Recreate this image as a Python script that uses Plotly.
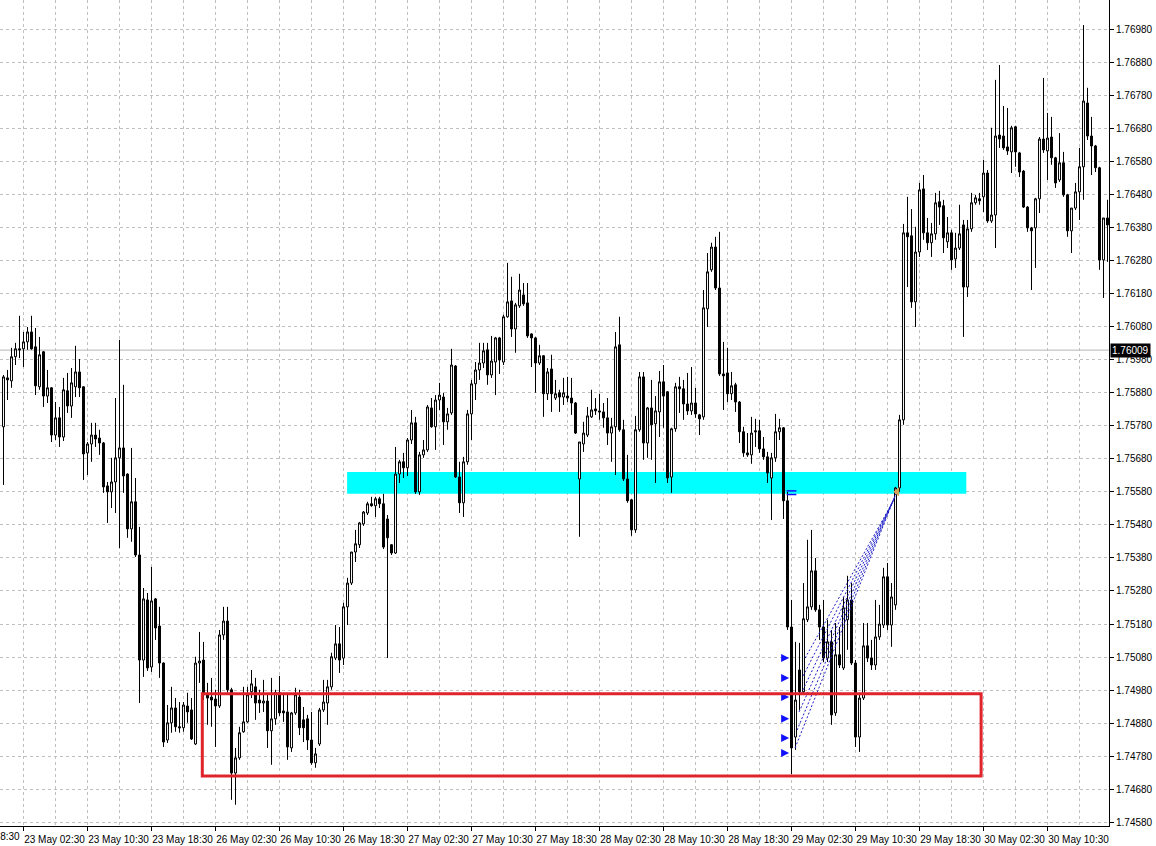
import plotly.graph_objects as go

# ---------------- data ----------------
# M30 bars, numbered from 0 = "23 May 02:30" (weekend gap removed, MT4 style)
first_bar = -5
# prices in points (1 point = 0.00001)
open_pts = [
    175777, 175925, 175916, 175989, 176013, 176013, 176034, 176064, 176019, 175898,
    176004, 175870, 175895, 175752, 175804, 175746, 175886, 175840, 175898, 175943,
    175898, 175698, 175725, 175752, 175743, 175728, 175598, 175580, 175610, 175683,
    175713, 175634, 175468, 175550, 175389, 175071, 175253, 175050, 175256, 175174,
    175062, 174829, 174881, 174926, 174869, 174866, 174932, 174920, 174817, 175062,
    175071, 174966, 174959, 174953, 174932, 175147, 175189, 174981, 174729, 174775,
    174854, 174884, 174975, 174990, 174950, 174941, 174947, 174857, 174893, 174972,
    174917, 174914, 174805, 174911, 174959, 174890, 174893, 174829, 174760, 174817,
    174920, 174941, 174990, 175077, 175120, 175077, 175232, 175304, 175398, 175420,
    175483, 175516, 175544, 175538, 175559, 175544, 175498, 175420, 175395, 175634,
    175671, 175653, 175737, 175789, 175580, 175692, 175707, 175834, 175777, 175858,
    175867, 175792, 175819, 175961, 175625, 175547, 175671, 175816, 175907, 175949,
    175970, 176010, 175934, 175973, 176046, 175973, 176110, 176158, 176073, 176143,
    176176, 176152, 176058, 176046, 175970, 175992, 175877, 175952, 175864, 175880,
    175867, 175870, 175864, 175849, 175619, 175725, 175752, 175807, 175831, 175825,
    175822, 175804, 175758, 175777, 176025, 175768, 175619, 175556, 175465, 175768,
    175928, 175728, 175834, 175786, 175822, 175913, 175883, 175625, 175771, 175898,
    175892, 175846, 175825, 175849, 175813, 175807, 176134, 176252, 176321, 176197,
    175937, 175940, 175877, 175904, 175852, 175762, 175698, 175692, 175765, 175765,
    175710, 175686, 175622, 175683, 175762, 175774, 175553, 175171, 174838, 175041,
    174975, 175193, 175232, 175341, 175223, 175171, 175077, 175126, 174911, 175087,
    175047, 175193, 175253, 175062, 174838, 174956, 175114, 175077, 175056, 175141,
    175177, 175323, 175177, 175238, 175592, 175798, 176364, 176355, 176155, 176306,
    176497, 176364, 176334, 176361, 176458, 176446, 176337, 176364, 176285, 176318,
    176388, 176200, 176376, 176455, 176467, 176473, 176545, 176400, 176418, 176660,
    176657, 176624, 176609, 176685, 176606, 176551, 176442, 176379, 176379, 176467,
    176648, 176612, 176654, 176591, 176524, 176576, 176479, 176370, 176439, 176488,
    176564, 176757, 176657, 176627, 176561, 176282, 176409,
]
high_pts = [
    175934, 175949, 176016, 176031, 176113, 176064, 176079, 176113, 176076, 176049,
    176006, 175949, 175897, 175852, 175837, 175925, 175940, 175955, 176022, 175982,
    175900, 175731, 175789, 175789, 175768, 175731, 175610, 175683, 175864, 176040,
    175904, 175636, 175713, 175622, 175474, 175289, 175274, 175353, 175259, 175232,
    175064, 174935, 174990, 174956, 174944, 174944, 174972, 174956, 175081, 175156,
    175126, 175002, 175017, 174981, 175162, 175232, 175232, 174987, 174805, 174869,
    174990, 174990, 175041, 175017, 174981, 175011, 174966, 175017, 174981, 175023,
    174972, 174972, 174914, 174987, 174981, 174929, 174905, 174914, 174805, 174926,
    175011, 175011, 175093, 175177, 175171, 175244, 175320, 175398, 175465, 175489,
    175522, 175550, 175565, 175565, 175565, 175574, 175510, 175422, 175716, 175677,
    175698, 175743, 175828, 175807, 175701, 175737, 175843, 175864, 175873, 175910,
    175880, 175834, 176013, 175964, 175671, 175686, 175828, 175919, 175973, 176031,
    176031, 176031, 176052, 176049, 176049, 176116, 176273, 176231, 176152, 176240,
    176212, 176212, 176060, 176049, 176025, 175994, 175955, 175995, 175919, 175889,
    175925, 175928, 175925, 175852, 175731, 175792, 175837, 175889, 175864, 175877,
    175849, 175864, 175804, 176064, 176110, 175798, 175692, 175558, 175810, 175943,
    175943, 175837, 175919, 175870, 175946, 175964, 175885, 175774, 175910, 175928,
    175919, 175940, 175958, 175895, 175816, 176191, 176303, 176334, 176352, 176367,
    176034, 176016, 175943, 175910, 175855, 175777, 175758, 175807, 175801, 175798,
    175746, 175701, 175698, 175816, 175801, 175776, 175580, 175253, 175126, 175123,
    175304, 175435, 175465, 175380, 175238, 175253, 175193, 175162, 175183, 175171,
    175262, 175326, 175304, 175071, 174972, 175183, 175183, 175132, 175253, 175238,
    175350, 175365, 175304, 175595, 175813, 176391, 176473, 176436, 176382, 176515,
    176539, 176409, 176394, 176485, 176491, 176464, 176412, 176373, 176364, 176449,
    176403, 176403, 176485, 176479, 176485, 176585, 176554, 176682, 176827, 176872,
    176748, 176742, 176688, 176688, 176609, 176554, 176445, 176382, 176470, 176654,
    176833, 176727, 176715, 176594, 176666, 176609, 176482, 176439, 176515, 176621,
    176993, 176803, 176715, 176630, 176564, 176409, 176464,
]
low_pts = [
    175601, 175858, 175895, 175964, 175985, 175958, 176010, 176010, 175873, 175889,
    175837, 175849, 175731, 175737, 175716, 175734, 175819, 175804, 175867, 175867,
    175616, 175631, 175671, 175716, 175692, 175577, 175486, 175531, 175516, 175410,
    175577, 175441, 175429, 175383, 174941, 175020, 175038, 175035, 175132, 175017,
    174808, 174820, 174851, 174854, 174851, 174854, 174881, 174829, 174814, 175002,
    174950, 174875, 174869, 174808, 174926, 175132, 174972, 174648, 174633, 174769,
    174851, 174881, 174956, 174890, 174911, 174914, 174805, 174754, 174875, 174902,
    174884, 174769, 174793, 174905, 174844, 174823, 174799, 174754, 174745, 174811,
    174914, 174875, 174981, 175071, 175032, 175056, 175177, 175298, 175368, 175410,
    175477, 175510, 175535, 175504, 175531, 175407, 175077, 175389, 175392, 175607,
    175622, 175628, 175725, 175574, 175571, 175683, 175701, 175774, 175707, 175828,
    175722, 175768, 175813, 175622, 175516, 175504, 175662, 175737, 175858, 175919,
    175955, 175904, 175925, 175873, 175937, 175964, 176107, 176049, 176001, 176137,
    176143, 176046, 175958, 175880, 175964, 175807, 175858, 175822, 175858, 175822,
    175843, 175852, 175813, 175755, 175444, 175701, 175746, 175804, 175813, 175798,
    175774, 175722, 175671, 175631, 175762, 175613, 175547, 175447, 175456, 175762,
    175677, 175683, 175677, 175607, 175746, 175774, 175607, 175577, 175762, 175819,
    175798, 175813, 175813, 175804, 175752, 175798, 176079, 176246, 176191, 175931,
    175828, 175852, 175858, 175822, 175728, 175686, 175686, 175665, 175716, 175698,
    175677, 175607, 175495, 175671, 175737, 175498, 175162, 174726, 174799, 174920,
    174966, 175186, 175223, 175217, 175132, 175065, 175065, 174875, 174902, 175047,
    175041, 175102, 175056, 174808, 174793, 174950, 175065, 175041, 175041, 175132,
    175168, 175162, 175111, 175223, 175580, 175783, 176200, 176137, 176079, 176291,
    176343, 176312, 176291, 176343, 176388, 176303, 176318, 176252, 176258, 176312,
    176049, 176170, 176367, 176449, 176449, 176427, 176394, 176394, 176318, 176621,
    176615, 176600, 176545, 176564, 176533, 176439, 176367, 176191, 176258, 176424,
    176606, 176524, 176570, 176500, 176518, 176473, 176352, 176303, 176433, 176403,
    176464, 176645, 176539, 176548, 176252, 176167, 176276,
]
close_pts = [
    175928, 175919, 175989, 176013, 176010, 176034, 176064, 176013, 175901, 175995,
    175870, 175895, 175752, 175804, 175746, 175889, 175840, 175910, 175943, 175895,
    175695, 175725, 175752, 175740, 175728, 175595, 175580, 175610, 175683, 175713,
    175628, 175468, 175550, 175389, 175071, 175256, 175047, 175250, 175168, 175062,
    174823, 174881, 174926, 174869, 174866, 174935, 174914, 174832, 175062, 175068,
    174966, 174956, 174950, 174932, 175147, 175189, 174981, 174729, 174775, 174851,
    174884, 174966, 174999, 174941, 174941, 174947, 174857, 174893, 174972, 174911,
    174911, 174808, 174911, 174966, 174866, 174866, 174829, 174760, 174787, 174920,
    174944, 174990, 175081, 175120, 175071, 175232, 175304, 175398, 175423, 175486,
    175519, 175544, 175538, 175559, 175544, 175413, 175441, 175395, 175634, 175671,
    175653, 175737, 175789, 175580, 175692, 175707, 175837, 175777, 175858, 175873,
    175792, 175816, 175964, 175625, 175547, 175671, 175816, 175907, 175949, 175970,
    176007, 175934, 175976, 176046, 175979, 176110, 176155, 176073, 176146, 176191,
    176149, 176052, 176046, 175970, 175992, 175877, 175943, 175877, 175877, 175867,
    175880, 175864, 175849, 175758, 175731, 175758, 175810, 175828, 175825, 175822,
    175804, 175758, 175777, 176019, 175768, 175619, 175553, 175465, 175768, 175928,
    175728, 175834, 175783, 175825, 175913, 175870, 175622, 175771, 175898, 175892,
    175846, 175825, 175849, 175816, 175801, 176137, 176246, 176321, 176197, 175937,
    175931, 175877, 175901, 175852, 175762, 175698, 175692, 175758, 175762, 175710,
    175686, 175637, 175683, 175762, 175774, 175553, 175171, 174805, 174950, 174975,
    175196, 175232, 175341, 175223, 175171, 175077, 175126, 174905, 175087, 175056,
    175229, 175253, 175062, 174838, 174956, 175114, 175077, 175056, 175141, 175180,
    175323, 175177, 175262, 175592, 175798, 176364, 176352, 176155, 176306, 176494,
    176364, 176334, 176361, 176455, 176442, 176349, 176364, 176282, 176318, 176361,
    176200, 176376, 176455, 176470, 176461, 176545, 176400, 176418, 176657, 176648,
    176621, 176612, 176682, 176609, 176548, 176442, 176379, 176370, 176467, 176648,
    176615, 176651, 176591, 176515, 176576, 176479, 176370, 176439, 176488, 176564,
    176763, 176657, 176627, 176561, 176282, 176409, 176388,
]

tick_bars = [0, 16, 32, 48, 64, 80, 96, 112, 128, 144, 160, 176, 192, 208, 224, 240, 256]
tick_labels = [
    "23 May 02:30", "23 May 10:30", "23 May 18:30", "26 May 02:30", "26 May 10:30",
    "26 May 18:30", "27 May 02:30", "27 May 10:30", "27 May 18:30", "28 May 02:30",
    "28 May 10:30", "28 May 18:30", "29 May 02:30", "29 May 10:30", "29 May 18:30",
    "30 May 02:30", "30 May 10:30",
]
# label of the previous tick, only its tail is visible at the left edge
prev_tick_bar = -16
prev_tick_label = "22 May 18:30"

current_price = 1.76009

# cyan resistance zone and red support box (bar numbers / prices)
zone_bars = [80.9, 235.7]
zone_prices = [1.75574, 1.75640]
box_bars = [44.7, 239.4]
box_prices = [1.74720, 1.74969]

# trade markers
order_bar = 191.4
order_prices = [1.75077, 1.75017, 1.74959, 1.74893, 1.74835, 1.74790]
stop_bar = 192.0
stop_prices = [1.75583, 1.75572]
exit_bar = 218.4
exit_price = 1.75580
trade_start_bars = [192.9, 193.4, 193.9, 194.4, 194.9, 195.4]
trade_start_prices = [1.74805, 1.74859, 1.74914, 1.74969, 1.75023, 1.75077]
trade_end_bars = [218.2, 218.0, 217.8, 217.6, 217.4, 217.2]
trade_end_prices = [1.75577, 1.75571, 1.75565, 1.75559, 1.75553, 1.75547]

# ---------------- figure ----------------
bars = list(range(first_bar, first_bar + len(close_pts)))
opens = [p / 1e5 for p in open_pts]
highs = [p / 1e5 for p in high_pts]
lows = [p / 1e5 for p in low_pts]
closes = [p / 1e5 for p in close_pts]

FONT = "Liberation Sans, Arial, sans-serif"
GRID = "#c0c0c0"

fig = go.Figure()

fig.add_trace(go.Candlestick(
    x=bars, open=opens, high=highs, low=lows, close=closes,
    increasing=dict(line=dict(color="black", width=1), fillcolor="white"),
    decreasing=dict(line=dict(color="black", width=1), fillcolor="black"),
    whiskerwidth=0, hoverinfo="skip", showlegend=False,
))

# dotted trade lines
lx, ly = [], []
for b0, p0, b1, p1 in zip(trade_start_bars, trade_start_prices, trade_end_bars, trade_end_prices):
    lx += [b0, b1, None]
    ly += [p0, p1, None]
fig.add_trace(go.Scatter(x=lx, y=ly, mode="lines",
                         line=dict(color="#1c1cc8", width=1, dash="2px,2px"),
                         hoverinfo="skip", showlegend=False))

fig.add_trace(go.Scatter(x=[order_bar] * len(order_prices), y=order_prices, mode="markers",
                         marker=dict(symbol="arrow-right", size=8, color="#1010ff",
                                     line=dict(width=0)),
                         hoverinfo="skip", showlegend=False))
fig.add_trace(go.Scatter(x=[stop_bar] * len(stop_prices), y=stop_prices, mode="markers",
                         marker=dict(symbol="line-ew", size=7,
                                     line=dict(color="#1010ff", width=1.5)),
                         hoverinfo="skip", showlegend=False))
fig.add_trace(go.Scatter(x=[exit_bar], y=[exit_price], mode="markers",
                         marker=dict(symbol="triangle-left", size=8, color="#d2a25a",
                                     line=dict(width=0)),
                         hoverinfo="skip", showlegend=False))

fig.add_shape(type="rect", xref="x", yref="y",
              x0=zone_bars[0], x1=zone_bars[1], y0=zone_prices[0], y1=zone_prices[1],
              fillcolor="#00ffff", line=dict(width=0), layer="between")
fig.add_shape(type="rect", xref="x", yref="y",
              x0=box_bars[0], x1=box_bars[1], y0=box_prices[0], y1=box_prices[1],
              fillcolor="rgba(0,0,0,0)", line=dict(color="#e0242c", width=3), layer="above")
fig.add_shape(type="line", xref="paper", yref="y", x0=0, x1=1,
              y0=current_price, y1=current_price,
              line=dict(color="#b4b4b4", width=1), layer="between")

fig.add_annotation(xref="paper", x=1, xanchor="left", xshift=1,
                   yref="y", y=current_price, yanchor="middle",
                   text=f"{current_price:.5f}", showarrow=False,
                   font=dict(family=FONT, size=10, color="white"),
                   bgcolor="black", borderpad=1)

W, H = 1156, 846
ML, MR, MT, MB = 0, 47, 0, 20
plot_w = W - ML - MR
plot_h = H - MT - MB
px_per_bar = 4.0
x0 = -23.5 / px_per_bar
x_range = [x0, x0 + plot_w / px_per_bar]
y_top = 1.770687
y_range = [y_top - plot_h * 0.000030266, y_top]

# clipped tail of the previous time label at the left edge (as in the reference)
fig.add_annotation(xref="paper", x=(prev_tick_bar - x0) / (x_range[1] - x0), xanchor="left",
                   xshift=-3, yref="paper", y=0, yanchor="top", yshift=-3,
                   text=prev_tick_label, showarrow=False,
                   font=dict(family=FONT, size=10, color="black"))

fig.update_layout(
    width=W, height=H,
    margin=dict(l=ML, r=MR, t=MT, b=MB, pad=0),
    paper_bgcolor="white", plot_bgcolor="white",
    showlegend=False,
    xaxis=dict(
        range=x_range, tickmode="array", tickvals=tick_bars, ticktext=tick_labels,
        ticks="outside", ticklen=4, tickcolor="black", tickwidth=1,
        ticklabelshift=31,
        showgrid=True, gridcolor=GRID, griddash="3px,3px", gridwidth=1,
        minor=dict(tickmode="linear", tick0=0, dtick=8, showgrid=True,
                   gridcolor=GRID, griddash="3px,3px", gridwidth=1, ticks=""),
        showline=True, linecolor="black", linewidth=1, zeroline=False,
        rangeslider=dict(visible=False),
        tickfont=dict(family=FONT, size=10, color="black"),
        fixedrange=True,
    ),
    yaxis=dict(
        side="right", range=y_range, tickmode="linear", tick0=1.7458, dtick=0.001,
        tickformat=".5f", ticks="outside", ticklen=4, tickcolor="black",
        showgrid=True, gridcolor=GRID, griddash="3px,3px", gridwidth=1,
        showline=True, linecolor="black", linewidth=1, zeroline=False,
        tickfont=dict(family=FONT, size=10, color="black"),
        fixedrange=True,
    ),
)

fig.write_html("out.html", config={"displayModeBar": False},
               post_script="document.body.style.margin='0';document.body.style.overflow='hidden';")
